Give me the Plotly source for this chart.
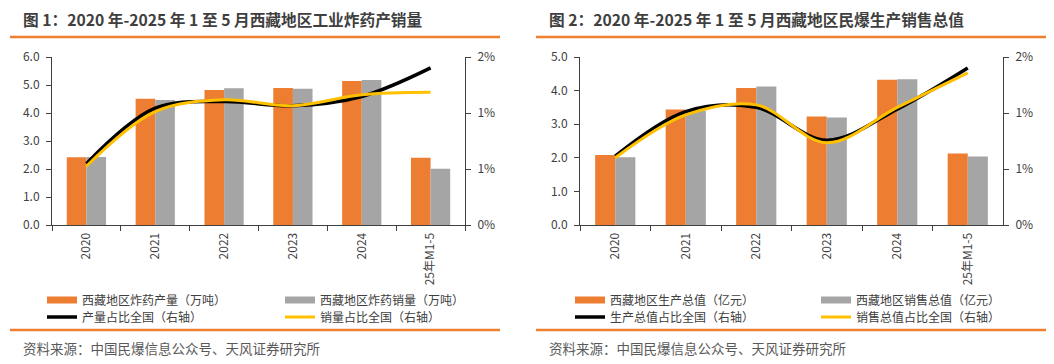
import plotly.graph_objects as go

categories = ["2020", "2021", "2022", "2023", "2024", "25年M1-5"]

# Chart 1: explosives output / sales (万吨) and share of national (right axis)
explosive_output = [2.42, 4.51, 4.82, 4.89, 5.14, 2.40]
explosive_sales = [2.43, 4.46, 4.88, 4.87, 5.18, 2.01]
output_share = [0.0073, 0.0139, 0.0147, 0.0142, 0.0153, 0.0187]
sales_share = [0.0070, 0.0135, 0.0149, 0.0142, 0.0155, 0.0158]

# Chart 2: production / sales value (亿元) and share of national (right axis)
prod_value = [2.08, 3.44, 4.08, 3.23, 4.32, 2.13]
sales_value = [2.02, 3.40, 4.12, 3.20, 4.34, 2.04]
prod_value_share = [0.0082, 0.0135, 0.0140, 0.0101, 0.0138, 0.0187]
sales_value_share = [0.0080, 0.0131, 0.0143, 0.0098, 0.0140, 0.0181]

left_ticks_1 = [0, 1, 2, 3, 4, 5, 6]
left_ticks_2 = [0, 1, 2, 3, 4, 5]
right_ticks = [0, 0.02 / 3, 0.04 / 3, 0.02]

# the page body has an 8px margin, so the figure is drawn 8px in from the window edge
OFF = 8
W, H = 1054 - OFF, 364 - OFF
ORANGE = "#ED7D31"
GREY = "#A5A5A5"
BLACK = "#000000"
YELLOW = "#FFC000"
TXT = "#404040"
FONT = "Noto Sans CJK SC"

fig = go.Figure()

def add_chart(xa, ya, ya2, bars1, bars2, line1, line2, names, legs):
    fig.add_trace(go.Bar(x=categories, y=bars1, name=names[0], marker=dict(color=ORANGE, line=dict(width=0)),
                         xaxis=xa, yaxis=ya, showlegend=False, offsetgroup="a"))
    fig.add_trace(go.Bar(x=categories, y=bars2, name=names[1], marker=dict(color=GREY, line=dict(width=0)),
                         xaxis=xa, yaxis=ya, showlegend=False, offsetgroup="b"))
    # legend entries for the bars, drawn as wide swatches
    for nm, col in ((names[0], ORANGE), (names[1], GREY)):
        fig.add_trace(go.Scatter(x=[None], y=[None], name=nm, mode="lines",
                                 line=dict(color=col, width=7), xaxis=xa, yaxis=ya,
                                 legend=legs[0], hoverinfo="skip"))
    fig.add_trace(go.Scatter(x=categories, y=line1, name=names[2], mode="lines",
                             line=dict(color=BLACK, width=3.5, shape="spline", smoothing=1.0),
                             xaxis=xa, yaxis=ya2, legend=legs[1]))
    fig.add_trace(go.Scatter(x=categories, y=line2, name=names[3], mode="lines",
                             line=dict(color=YELLOW, width=3, shape="spline", smoothing=1.0),
                             xaxis=xa, yaxis=ya2, legend=legs[1]))

add_chart("x", "y", "y2", explosive_output, explosive_sales, output_share, sales_share,
          ["西藏地区炸药产量（万吨）", "西藏地区炸药销量（万吨）", "产量占比全国（右轴）", "销量占比全国（右轴）"],
          ["legend", "legend2"])
add_chart("x2", "y3", "y4", prod_value, sales_value, prod_value_share, sales_value_share,
          ["西藏地区生产总值（亿元）", "西藏地区销售总值（亿元）", "生产总值占比全国（右轴）", "销售总值占比全国（右轴）"],
          ["legend3", "legend4"])

def px_x(p):
    return (p - OFF) / W

def px_y(p):
    return 1 - (p - OFF) / H

y_dom = [px_y(225), px_y(57)]
xaxis_common = dict(type="category", showgrid=False, showline=True, linecolor="#404040", linewidth=1,
                    ticks="outside", ticklen=5, tickcolor="#404040", tickson="boundaries",
                    tickangle=-90, tickfont=dict(family=FONT, size=12, color=TXT), zeroline=False,
                    fixedrange=True, automargin=False, ticklabelstandoff=2)
yaxis_common = dict(showgrid=False, showline=True, linecolor="#404040", linewidth=1, ticks="outside",
                    ticklen=5, tickcolor="#404040", tickfont=dict(family=FONT, size=12, color=TXT),
                    zeroline=False, domain=y_dom, automargin=False, ticklabelstandoff=4)

legend_common = dict(orientation="h", bgcolor="rgba(0,0,0,0)", font=dict(family=FONT, size=12, color=TXT),
                     xanchor="left", yanchor="middle", itemwidth=30, tracegroupgap=0,
                     entrywidthmode="pixels", itemclick=False, itemdoubleclick=False)

fig.update_layout(
    width=W, height=H,
    margin=dict(l=0, r=0, t=0, b=0, autoexpand=False),
    paper_bgcolor="white", plot_bgcolor="white",
    barmode="group", bargap=0.43, bargroupgap=0.0,
    showlegend=True,
    font=dict(family=FONT, color=TXT),
    xaxis=dict(xaxis_common, domain=[px_x(52), px_x(465)], anchor="y"),
    yaxis=dict(yaxis_common, range=[0, 6], tickvals=left_ticks_1, tickformat=".1f", anchor="x", side="left"),
    yaxis2=dict(yaxis_common, range=[0, 0.02], tickvals=right_ticks, tickformat=".0%", anchor="x",
                overlaying="y", side="right"),
    xaxis2=dict(xaxis_common, domain=[px_x(580), px_x(1003)], anchor="y3"),
    yaxis3=dict(yaxis_common, range=[0, 5], tickvals=left_ticks_2, tickformat=".1f", anchor="x2", side="left"),
    yaxis4=dict(yaxis_common, range=[0, 0.02], tickvals=right_ticks, tickformat=".0%", anchor="x2",
                overlaying="y3", side="right"),
    legend=dict(legend_common, x=px_x(42), y=px_y(300), entrywidth=193),
    legend2=dict(legend_common, x=px_x(42), y=px_y(317), entrywidth=193),
    legend3=dict(legend_common, x=px_x(570), y=px_y(300), entrywidth=201),
    legend4=dict(legend_common, x=px_x(570), y=px_y(317), entrywidth=201),
)

# Titles
fig.add_annotation(text="<b>图 1：2020 年-2025 年 1 至 5 月西藏地区工业炸药产销量</b>", x=px_x(21), y=px_y(19),
                   xref="paper", yref="paper", xanchor="left", yanchor="middle", showarrow=False,
                   font=dict(family=FONT, size=15.7, color="#3f3f3f"))
fig.add_annotation(text="<b>图 2：2020 年-2025 年 1 至 5 月西藏地区民爆生产销售总值</b>", x=px_x(547), y=px_y(19),
                   xref="paper", yref="paper", xanchor="left", yanchor="middle", showarrow=False,
                   font=dict(family=FONT, size=15.7, color="#3f3f3f"))
# Sources
for xs in (21, 547):
    fig.add_annotation(text="资料来源：中国民爆信息公众号、天风证券研究所", x=px_x(xs), y=px_y(348),
                       xref="paper", yref="paper", xanchor="left", yanchor="middle", showarrow=False,
                       font=dict(family=FONT, size=13.5, color="#595959"))

# Orange separator lines
for (x0, x1) in ((10, 500), (536, 1050)):
    for yy in (37, 330):
        fig.add_shape(type="line", xref="paper", yref="paper", x0=px_x(x0), x1=px_x(x1),
                      y0=px_y(yy), y1=px_y(yy), line=dict(color="#EE8030", width=2.5))

fig.write_html("out.html")
